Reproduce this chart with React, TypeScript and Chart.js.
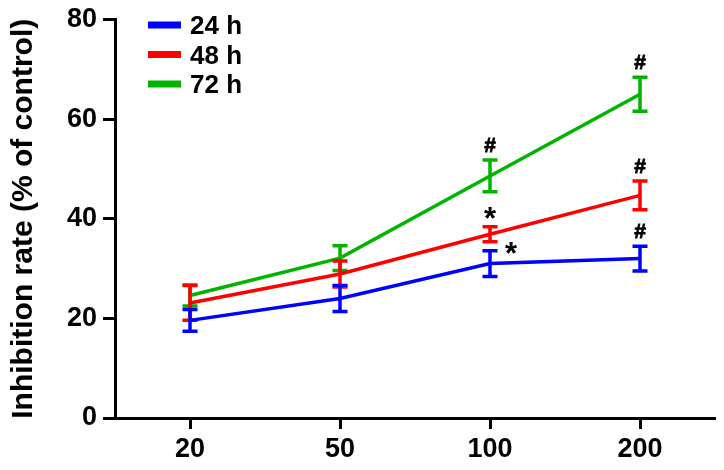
import React, { useEffect, useRef } from 'react';
import { Chart, registerables } from 'chart.js';

Chart.register(...registerables);

// ---- data ----
const categories = ['20', '50', '100', '200'];
const seriesLabels = ['24 h', '48 h', '72 h'];
const mean24 = [19.6, 24.0, 31.0, 32.0];
const err24 = [2.2, 2.6, 2.6, 2.5];
const mean48 = [23.1, 28.9, 36.9, 44.7];
const err48 = [3.5, 2.6, 1.5, 2.9];
const mean72 = [24.6, 32.1, 48.6, 65.0];
const err72 = [2.1, 2.5, 3.2, 3.4];
const marks24 = ['', '', '*', '#'];
const marks48 = ['', '', '*', '#'];
const marks72 = ['', '', '#', '#'];
const yTicks = [0, 20, 40, 60, 80];
const yTitle = 'Inhibition rate (% of control)';

// ---- style ----
const FONT = "'Liberation Sans', Arial, Helvetica, sans-serif";
const colors = ['#0000ff', '#ff0000', '#00b400'];
const markSide24 = ['', '', 'right', 'above'];
const markSide48 = ['', '', 'above', 'above'];
const markSide72 = ['', '', 'above', 'above'];

const errs = [err24, err48, err72];
const marks = [marks24, marks48, marks72];
const sides = [markSide24, markSide48, markSide72];

const errorBarPlugin = {
  id: 'errorBars',
  afterDatasetDraw(chart: any, args: any) {
    const i = args.index;
    const meta = args.meta;
    const ctx = chart.ctx;
    const y = chart.scales.y;
    const ds = chart.data.datasets[i];
    ctx.save();
    ctx.strokeStyle = colors[i];
    ctx.lineWidth = 3.5;
    ctx.lineCap = 'butt';
    meta.data.forEach((pt: any, j: number) => {
      const v = ds.data[j] as number;
      const e = errs[i][j];
      const x = pt.x;
      const yt = y.getPixelForValue(v + e);
      const yb = y.getPixelForValue(v - e);
      const cw = 7.5;
      ctx.beginPath();
      ctx.moveTo(x, yt);
      ctx.lineTo(x, yb);
      ctx.moveTo(x - cw, yt);
      ctx.lineTo(x + cw, yt);
      ctx.moveTo(x - cw, yb);
      ctx.lineTo(x + cw, yb);
      ctx.stroke();
    });
    ctx.restore();
  },
  afterDraw(chart: any) {
    const ctx = chart.ctx;
    const y = chart.scales.y;
    ctx.save();
    ctx.fillStyle = '#000';
    ctx.strokeStyle = '#000';
    ctx.textAlign = 'center';
    ctx.textBaseline = 'alphabetic';
    chart.data.datasets.forEach((ds: any, i: number) => {
      const meta = chart.getDatasetMeta(i);
      meta.data.forEach((pt: any, j: number) => {
        const t = marks[i][j];
        if (!t) return;
        const top = y.getPixelForValue((ds.data[j] as number) + errs[i][j]);
        ctx.font = t === '*' ? `bold 31px ${FONT}` : `bold 21px ${FONT}`;
        const m = ctx.measureText(t);
        const asc = m.actualBoundingBoxAscent;
        const desc = m.actualBoundingBoxDescent;
        const h = asc + desc;
        let cx = pt.x;
        let cy = top - 8 - h / 2;
        if (sides[i][j] === 'right') {
          cx = pt.x + 21;
          cy = top - 3;
        }
        const by = cy + (asc - desc) / 2;
        ctx.fillText(t, cx, by);
        if (t === '#') {
          ctx.lineWidth = 0.8;
          ctx.strokeText(t, cx, by);
        }
      });
    });
    ctx.restore();
  },
};

const legendPlugin = {
  id: 'insideLegend',
  afterDraw(chart: any) {
    const ctx = chart.ctx;
    ctx.save();
    chart.data.datasets.forEach((ds: any, i: number) => {
      const cy = 25 + i * 29.5;
      ctx.strokeStyle = colors[i];
      ctx.lineWidth = 7;
      ctx.beginPath();
      ctx.moveTo(148, cy);
      ctx.lineTo(181, cy);
      ctx.stroke();
      ctx.fillStyle = '#000';
      ctx.font = `bold 26px ${FONT}`;
      ctx.textAlign = 'left';
      ctx.textBaseline = 'alphabetic';
      const m = ctx.measureText('0');
      const asc = m.actualBoundingBoxAscent;
      ctx.fillText(ds.label, 190, cy + asc / 2);
    });
    ctx.restore();
  },
};

export default function App() {
  const ref = useRef<HTMLCanvasElement>(null);
  useEffect(() => {
    const canvas = ref.current!;
    const values = [mean24, mean48, mean72];
    const chart = new Chart(canvas, {
      type: 'line',
      data: {
        labels: categories,
        datasets: values.map((d, i) => ({
          label: seriesLabels[i],
          data: d,
          borderColor: colors[i],
          backgroundColor: colors[i],
          borderWidth: 3.5,
          pointRadius: 0,
          tension: 0,
          fill: false,
        })),
      },
      options: {
        responsive: false,
        maintainAspectRatio: false,
        animation: false,
        layout: { padding: { top: 19, right: 9, left: 0, bottom: 0 } },
        plugins: { legend: { display: false }, tooltip: { enabled: false } },
        scales: {
          x: {
            type: 'category',
            offset: true,
            grid: {
              display: true,
              drawOnChartArea: false,
              drawTicks: true,
              tickLength: 11,
              tickWidth: 3,
              tickColor: '#000',
              color: '#000',
            },
            border: { display: true, color: '#000', width: 3 },
            ticks: {
              color: '#000',
              padding: 4,
              font: { family: FONT, size: 27, weight: 'bold' },
              maxRotation: 0,
            },
            afterFit: (s: any) => {
              s.height = 52;
            },
          },
          y: {
            type: 'linear',
            min: 0,
            max: 80,
            afterBuildTicks: (s: any) => {
              s.ticks = yTicks.map((v) => ({ value: v }));
            },
            grid: {
              display: true,
              drawOnChartArea: false,
              drawTicks: true,
              tickLength: 12,
              tickWidth: 3,
              tickColor: '#000',
              color: '#000',
            },
            border: { display: true, color: '#000', width: 3 },
            ticks: {
              color: '#000',
              padding: 6,
              font: { family: FONT, size: 27, weight: 'bold', lineHeight: 1 },
            },
            title: {
              display: true,
              text: yTitle,
              color: '#000',
              font: { family: FONT, size: 30, weight: 'bold' },
              padding: { top: 6, bottom: 0 },
            },
            afterFit: (s: any) => {
              s.width = 115;
            },
          },
        },
      },
      plugins: [errorBarPlugin, legendPlugin],
    } as any);
    return () => chart.destroy();
  }, []);
  return (
    <div style={{ position: 'fixed', left: 0, top: 0, width: 724, height: 470, background: '#fff' }}>
      <canvas ref={ref} width={724} height={470} style={{ display: 'block' }} />
    </div>
  );
}
